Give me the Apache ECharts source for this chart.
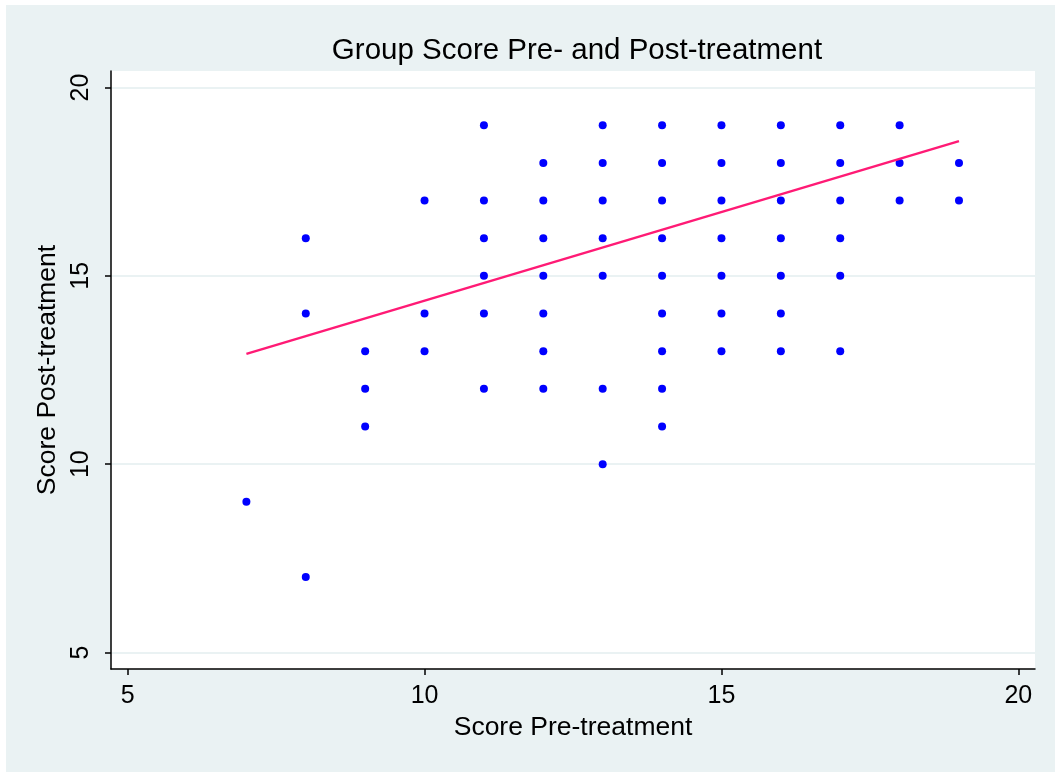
<!DOCTYPE html>
<html>
<head>
<meta charset="utf-8">
<script src="https://cdn.jsdelivr.net/npm/echarts@6/dist/echarts.min.js"></script>
<style>
  html, body { margin: 0; padding: 0; background: #fff; }
  #main { width: 1055px; height: 772px; }
</style>
</head>
<body>
<div id="main"></div>
<script>
// pre-treatment score (x) and post-treatment score (y), one entry per dot
var preScore = [
    7,
    8, 8, 8,
    9, 9, 9,
    10, 10, 10,
    11, 11, 11, 11, 11, 11,
    12, 12, 12, 12, 12, 12, 12,
    13, 13, 13, 13, 13, 13, 13,
    14, 14, 14, 14, 14, 14, 14, 14, 14,
    15, 15, 15, 15, 15, 15, 15,
    16, 16, 16, 16, 16, 16, 16,
    17, 17, 17, 17, 17, 17,
    18, 18, 18,
    19, 19
];
var postScore = [
    9,
    16, 14, 7,
    13, 12, 11,
    17, 14, 13,
    19, 17, 16, 15, 14, 12,
    18, 17, 16, 15, 14, 13, 12,
    19, 18, 17, 16, 15, 12, 10,
    19, 18, 17, 16, 15, 14, 13, 12, 11,
    19, 18, 17, 16, 15, 14, 13,
    19, 18, 17, 16, 15, 14, 13,
    19, 18, 17, 16, 15, 13,
    19, 18, 17,
    18, 17
];
// fitted line end points
var fitX = [7, 19];
var fitY = [12.93, 18.58];
var tickValues = [5, 10, 15, 20];

function buildPoints(xs, ys) {
    var out = [];
    for (var i = 0; i < xs.length; i++) {
        out.push([xs[i], ys[i]]);
    }
    return out;
}

var font = '"Liberation Sans", Arial, Helvetica, sans-serif';
var chart = echarts.init(document.getElementById('main'));

var option = {
    backgroundColor: '#ffffff',
    animation: false,
    graphic: [{
        type: 'rect',
        z: -100,
        silent: true,
        shape: { x: 6, y: 5, width: 1049, height: 767 },
        style: { fill: '#eaf2f3' }
    }],
    title: {
        text: 'Group Score Pre- and Post-treatment',
        left: 572,
        textAlign: 'center',
        top: 31,
        textStyle: { fontFamily: font, fontSize: 29.5, fontWeight: 'normal', color: '#000' }
    },
    grid: {
        left: 111,
        right: 20,
        top: 71,
        bottom: 103,
        show: true,
        backgroundColor: '#ffffff',
        borderWidth: 0
    },
    xAxis: {
        type: 'value',
        min: 4.72,
        max: 20.28,
        name: 'Score Pre-treatment',
        nameLocation: 'middle',
        nameGap: 43,
        nameTextStyle: { fontFamily: font, fontSize: 26.5, color: '#000' },
        axisLine: { show: true, onZero: false, lineStyle: { color: '#000', width: 1.5 } },
        axisTick: { show: true, length: 6, customValues: tickValues, lineStyle: { color: '#000', width: 1.5 } },
        axisLabel: { customValues: tickValues, margin: 15, fontFamily: font, fontSize: 25, color: '#000' },
        splitLine: { show: false }
    },
    yAxis: {
        type: 'value',
        min: 4.56,
        max: 20.44,
        name: 'Score Post-treatment',
        nameLocation: 'middle',
        nameGap: 45,
        nameRotate: 90,
        nameTextStyle: { fontFamily: font, fontSize: 26.5, color: '#000' },
        axisLine: { show: true, onZero: false, lineStyle: { color: '#000', width: 1.5 } },
        axisTick: { show: true, length: 6, customValues: tickValues, lineStyle: { color: '#000', width: 1.5 } },
        axisLabel: { customValues: tickValues, rotate: 90, margin: 17, fontFamily: font, fontSize: 25, color: '#000' },
        splitLine: { show: true, lineStyle: { color: '#eaf2f3', width: 2 } }
    },
    series: [
        {
            name: 'scores',
            type: 'scatter',
            symbol: 'circle',
            symbolSize: 8,
            itemStyle: { color: '#0000ff', opacity: 1 },
            data: buildPoints(preScore, postScore)
        },
        {
            name: 'fit',
            type: 'line',
            showSymbol: false,
            symbol: 'none',
            lineStyle: { color: '#ff1a75', width: 2.4 },
            data: buildPoints(fitX, fitY)
        }
    ]
};
chart.setOption(option);
</script>
</body>
</html>
